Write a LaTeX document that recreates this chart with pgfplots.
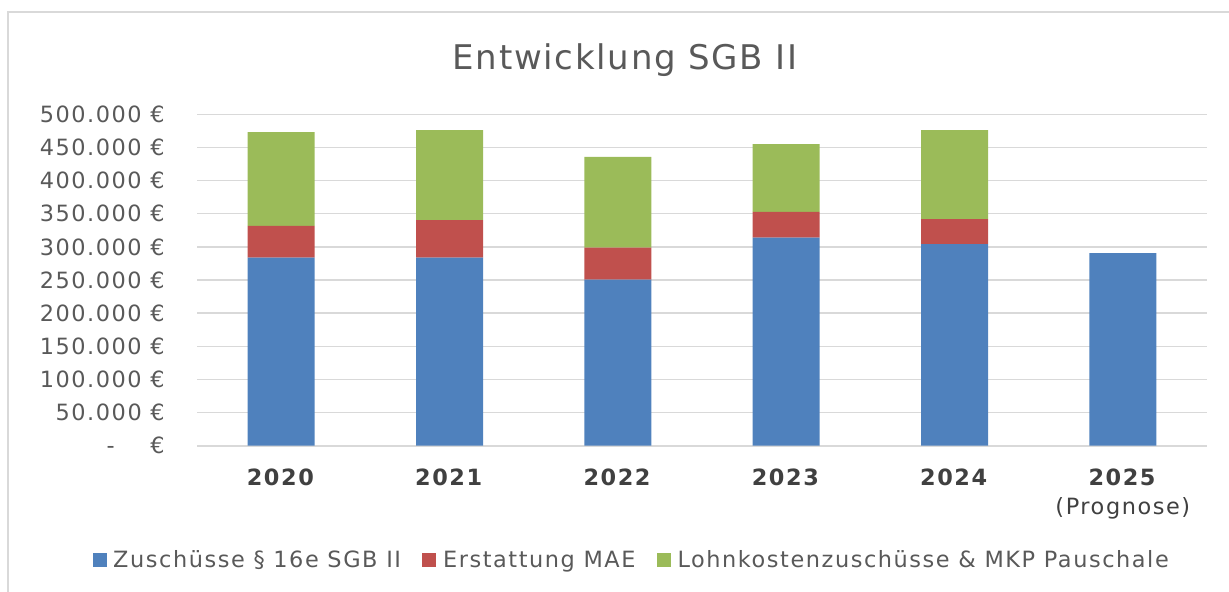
\documentclass[border=0pt]{standalone}
\usepackage{pgfplots}
\pgfplotsset{compat=1.18}
\usepackage{fontspec}
\setmainfont{DejaVu Sans}[LetterSpace=7]
\newfontfamily\titlefont{DejaVu Sans}[LetterSpace=5]
\definecolor{cblue}{HTML}{4F81BD}
\definecolor{cred}{HTML}{C0504D}
\definecolor{cgreen}{HTML}{9BBB59}
\definecolor{cgrid}{HTML}{D9D9D9}
\definecolor{ctext}{HTML}{595959}
\definecolor{cdark}{HTML}{404040}
\begin{document}
\begin{tikzpicture}
\useasboundingbox (0,0) rectangle (921.75pt,444pt);
\draw[cgrid, line width=2pt] (6pt,-5pt) -- (6pt,435pt) -- (930pt,435pt);
\node[anchor=base, text=ctext, font=\titlefont\fontsize{25.5}{30}\selectfont] at (468.75pt,392pt) {Entwicklung SGB II};
\begin{axis}[
  at={(147.75pt,109.725pt)}, anchor=south west,
  scale only axis, width=757.5pt, height=248.55pt,
  ybar stacked, bar width=50.25pt,
  xmin=-0.5, xmax=5.5, ymin=0, ymax=500000,
  scaled y ticks=false,
  xtick={0,1,2,3,4,5},
  xticklabels={\textbf{2020},\textbf{2021},\textbf{2022},\textbf{2023},\textbf{2024},\textbf{2025}\\(Prognose)},
  ytick={0,50000,100000,150000,200000,250000,300000,350000,400000,450000,500000},
  yticklabels={{-\hspace{1.6em}€},50.000 €,100.000 €,150.000 €,200.000 €,250.000 €,300.000 €,350.000 €,400.000 €,450.000 €,500.000 €},
  ymajorgrids, grid style={cgrid, line width=1.1pt},
  axis x line*=bottom, axis y line*=left,
  x axis line style={cgrid, line width=1.6pt, -},
  y axis line style={draw=none},
  major tick length=0pt,
  yticklabel style={anchor=east, inner sep=0pt, xshift=-24pt, text=ctext, font=\fontsize{16.8}{20}\selectfont},
  xticklabel style={anchor=north, inner sep=0pt, yshift=-17pt, align=center, text=cdark, font=\fontsize{16.8}{21.75}\selectfont},
  legend columns=3,
  legend style={at={(0.4307,-0.345)}, anchor=center, draw=none, fill=none,
    font=\fontsize{16.8}{20}\selectfont, text=ctext,
    /tikz/every odd column/.append style={column sep=3pt},
    /tikz/every even column/.append style={column sep=14pt}},
  legend image code/.code={\fill[#1] (0pt,-5.25pt) rectangle (10.5pt,5.25pt);},
]
\addplot[fill=cblue, draw=none] coordinates {(0,283700) (1,283700) (2,250500) (3,313800) (4,304300) (5,290700)};
\addplot[fill=cred, draw=none] coordinates {(0,47800) (1,56700) (2,48200) (3,38800) (4,37700)};
\addplot[fill=cgreen, draw=none] coordinates {(0,141500) (1,135600) (2,136900) (3,102400) (4,134000)};
\legend{Zuschüsse § 16e SGB II, Erstattung MAE, Lohnkostenzuschüsse \& MKP Pauschale}
\end{axis}
\end{tikzpicture}
\end{document}
